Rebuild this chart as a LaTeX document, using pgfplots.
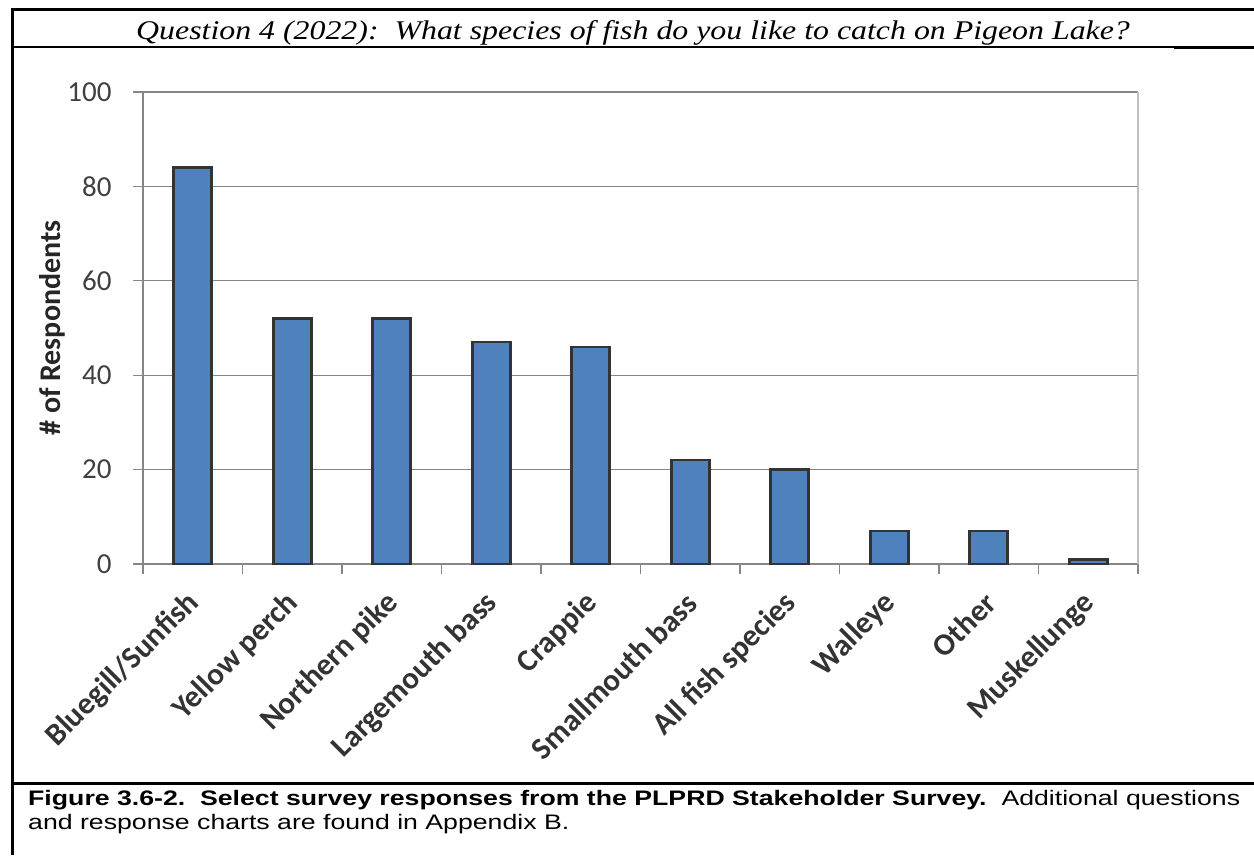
\documentclass[border=0pt]{standalone}
\usepackage{pgfplots}
\pgfplotsset{compat=1.18}
\usepackage{fontspec}
\setmainfont{Carlito}
\newfontfamily\serifit{Liberation Serif}
\newfontfamily\arialf{Liberation Sans}
\definecolor{barblue}{HTML}{4F81BD}
\definecolor{baredge}{HTML}{333333}
\definecolor{gridc}{HTML}{868686}
\definecolor{borderc}{HTML}{BFBFBF}
\definecolor{tickc}{HTML}{404040}
\begin{document}
\begin{tikzpicture}
\useasboundingbox (0pt,0pt) rectangle (1254pt,855pt);
\begin{axis}[
  at={(143pt,291pt)}, anchor=south west,
  scale only axis, width=995pt, height=472pt,
  xmin=-0.5, xmax=9.5, ymin=0, ymax=100,
  axis x line*=bottom, axis y line*=left,
  axis line style={draw=gridc, line width=1.3pt},
  clip=false,
  ytick={0,20,...,100},
  ymajorgrids, grid style={draw=gridc, line width=1.3pt},
  xtick={0,...,9},
  xticklabels={Bluegill/Sunfish, Yellow perch, Northern pike, Largemouth bass, Crappie, Smallmouth bass, All fish species, Walleye, Other, Muskellunge},
  minor xtick={-0.5,0.5,...,9.5},
  tick align=outside,
  major tick length=10pt, minor tick length=10pt,
  major x tick style={draw=none},
  minor x tick style={draw=gridc, line width=1.3pt},
  ytick style={draw=gridc, line width=1.3pt},
  /pgf/number format/assume math mode=true,
  yticklabel style={xshift=-18pt, font=\fontsize{29}{29}\selectfont, color=tickc},
  xticklabel style={xshift=4pt, yshift=-22pt, rotate=45, anchor=east, font=\bfseries\fontsize{31}{31}\selectfont, color=black!80},
  ylabel={\# of Respondents},
  every axis y label/.style={at={(axis description cs:0,0.5)}, xshift=-91pt, rotate=90, anchor=center, font=\bfseries\fontsize{30}{30}\selectfont, color=black!85},
]
\addplot[ybar, fill=barblue, draw=baredge, line width=2.6pt, bar width=38pt]
  coordinates {(0,84) (1,52) (2,52) (3,47) (4,46) (5,22) (6,20) (7,7) (8,7) (9,1)};
\draw[draw=borderc, line width=2pt] (rel axis cs:1,0) -- (rel axis cs:1,1);
\end{axis}
\node[anchor=base, font=\serifit\itshape\fontsize{27}{27}\selectfont, inner sep=0pt] at (633pt,815pt)
  {\scalebox{1.18}[1]{Question 4 (2022):\ \ What species of fish do you like to catch on Pigeon Lake?}};
\draw[line width=3pt] (1254pt,845pt) -- (12pt,845pt) -- (12pt,0pt);
\draw[line width=1.5pt] (12pt,808pt) -- (1174pt,808pt);
\draw[line width=3pt] (1174pt,807pt) -- (1254pt,807pt);
\draw[line width=3pt] (12pt,72pt) -- (1254pt,72pt);
\node[anchor=base west, inner sep=0pt, font=\arialf\fontsize{21}{21}\selectfont] at (28pt,50pt)
  {\scalebox{1.27}[1]{{\bfseries Figure 3.6-2.\ \ Select survey responses from the PLPRD Stakeholder Survey.}\ \ Additional questions}};
\node[anchor=base west, inner sep=0pt, font=\arialf\fontsize{21}{21}\selectfont] at (28pt,26pt)
  {\scalebox{1.27}[1]{and response charts are found in Appendix B.}};
\end{tikzpicture}
\end{document}
